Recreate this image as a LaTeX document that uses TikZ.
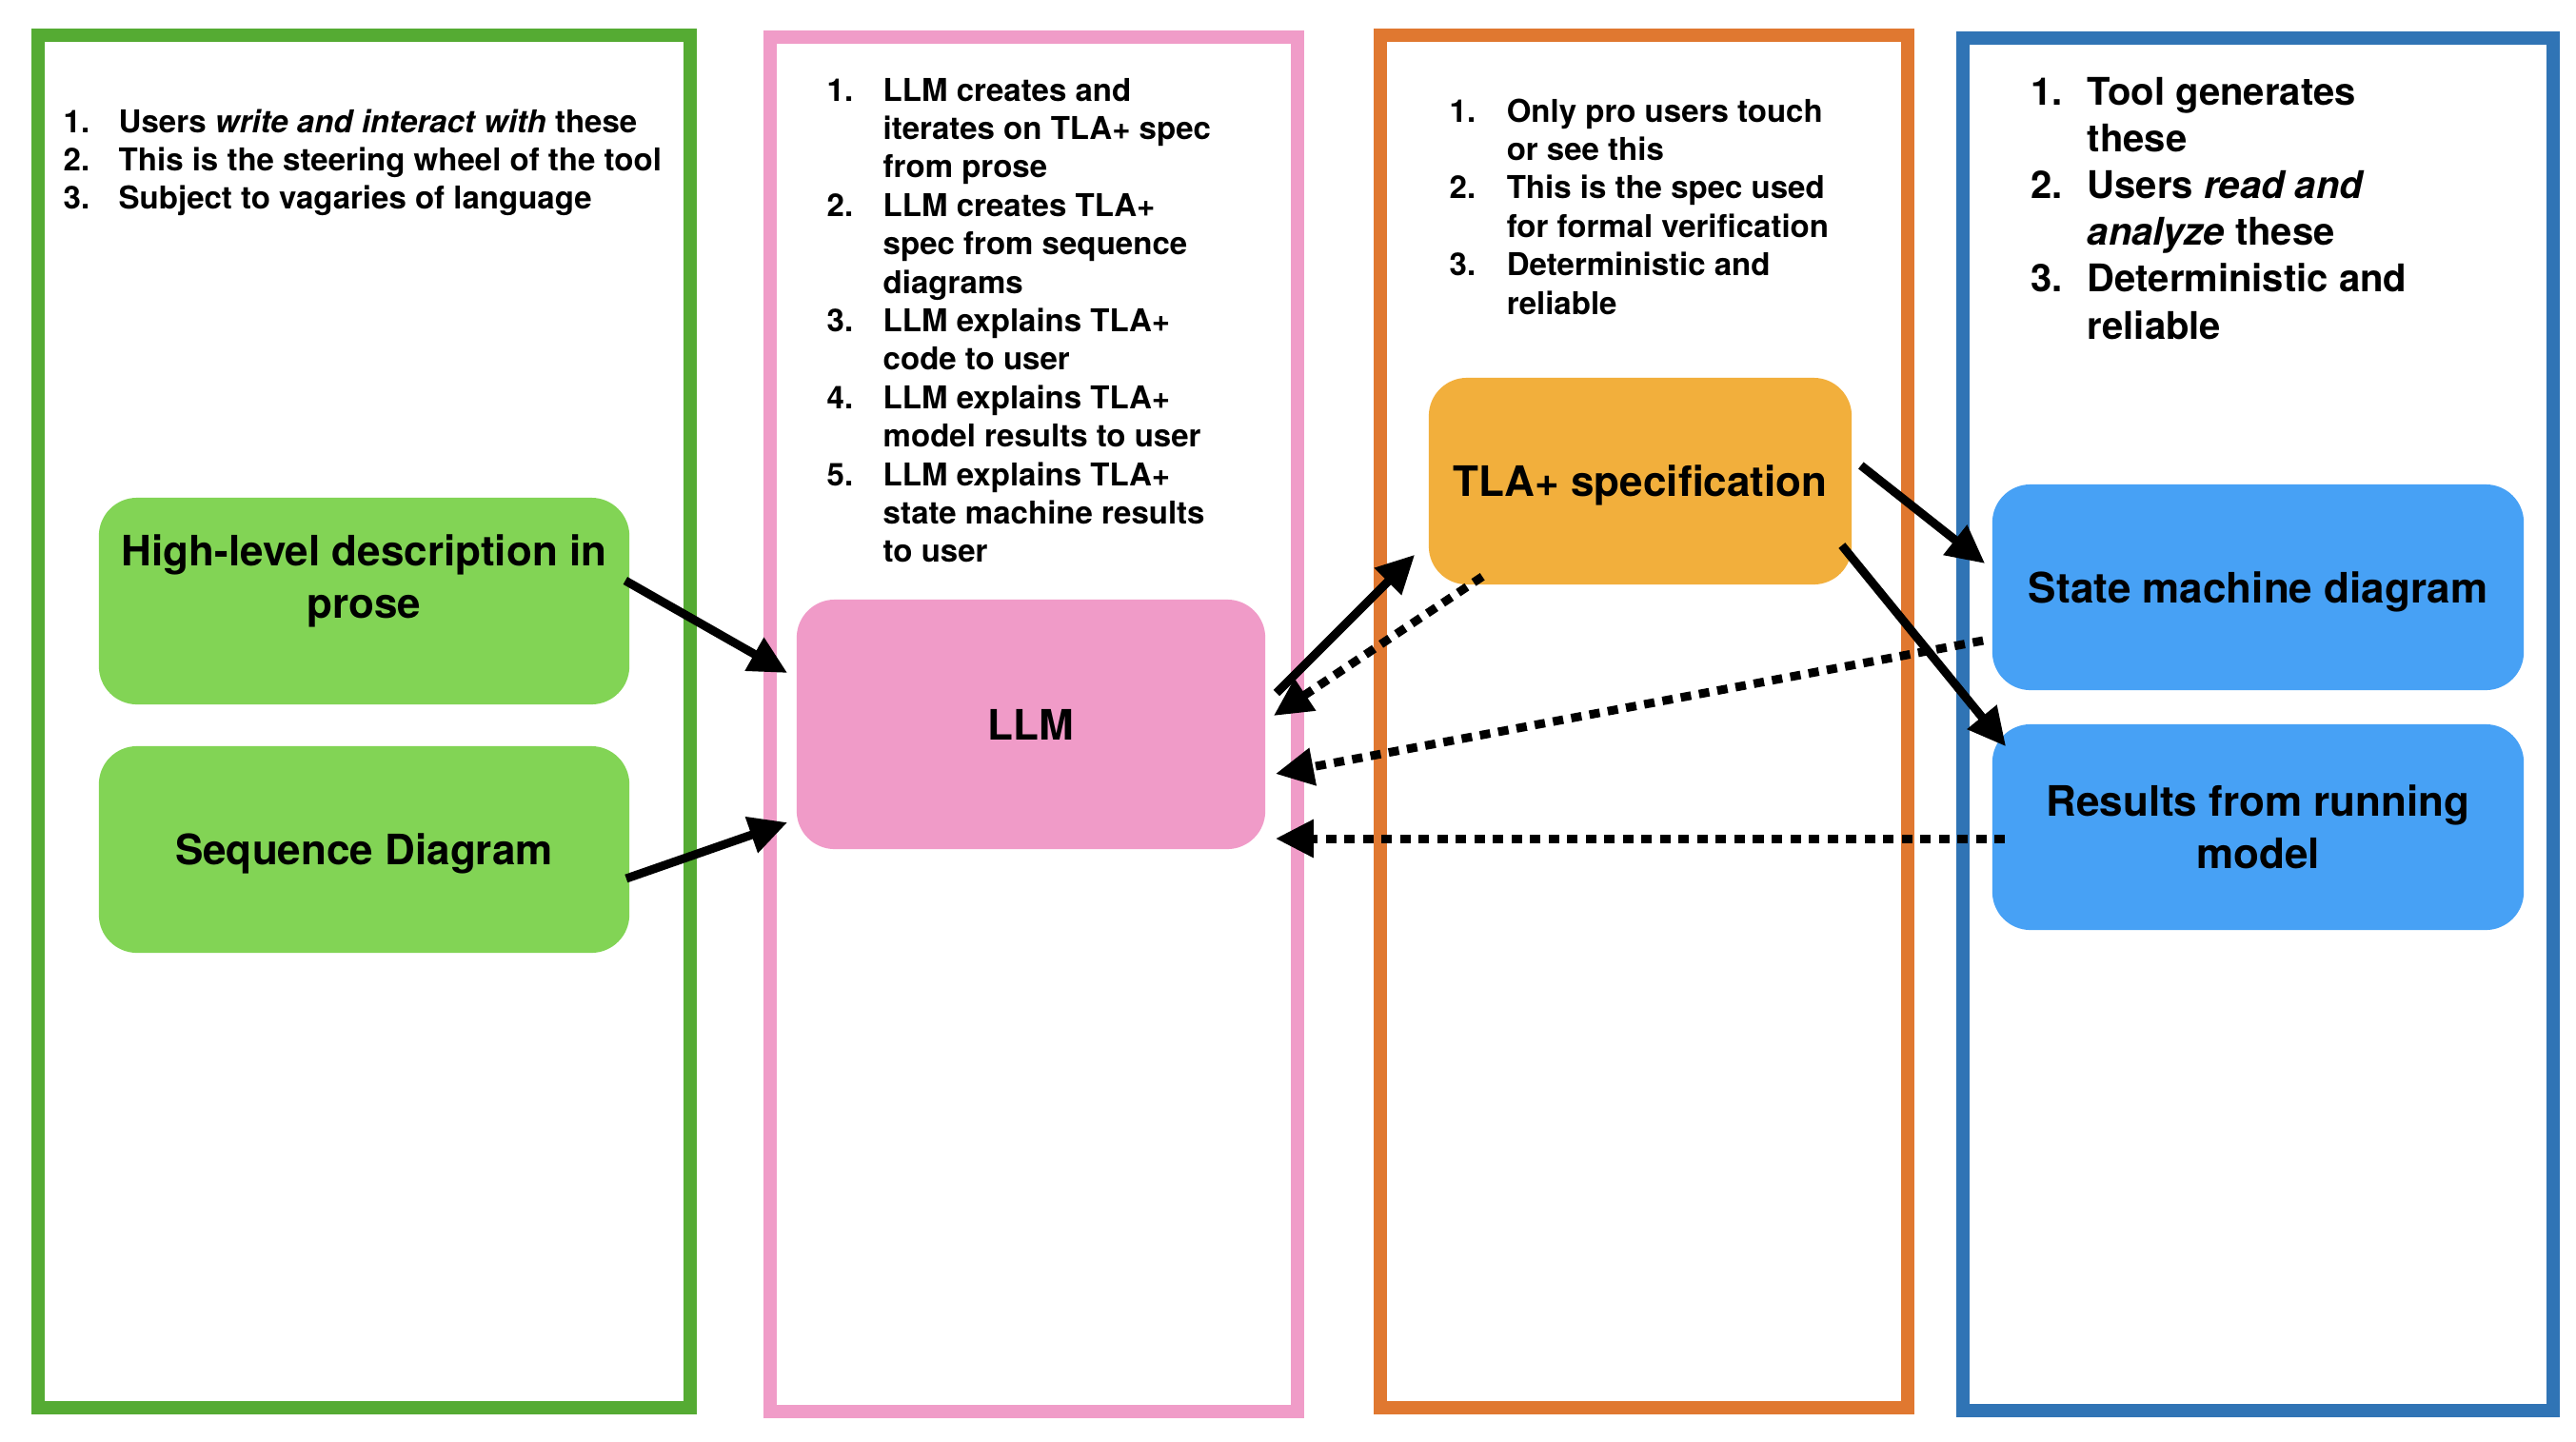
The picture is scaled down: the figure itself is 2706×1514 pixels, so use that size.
\documentclass[tikz,border=0pt]{standalone}
\usepackage{fontspec}
\setmainfont{TeX Gyre Heros}
\usetikzlibrary{arrows.meta,calc}
\definecolor{grnB}{RGB}{85,171,51}
\definecolor{grnF}{RGB}{130,212,85}
\definecolor{pnkB}{RGB}{240,156,200}
\definecolor{pnkF}{RGB}{240,155,200}
\definecolor{orgB}{RGB}{224,120,48}
\definecolor{orgF}{RGB}{242,175,60}
\definecolor{bluB}{RGB}{48,116,181}
\definecolor{bluF}{RGB}{71,161,245}
\newcommand{\mynodefont}{\fontsize{12.52pt}{15.65pt}\selectfont\bfseries}
\newcommand{\mylistfont}{\fontsize{9.39pt}{11.49pt}\selectfont\bfseries}
\newcommand{\mybiglistfont}{\fontsize{11.38pt}{14.0pt}\selectfont\bfseries}
\begin{document}
\begin{tikzpicture}[x=0.01cm,y=-0.01cm,
  colbox/.style={line width=0.14cm},
  boxnode/.style={rounded corners=0.4cm, inner sep=0pt, font=\mynodefont, align=center},
  oneline/.style={text height=0.32cm, text depth=0cm},
  arr/.style={line width=0.09cm, -{Triangle[length=0.40cm,width=0.38cm]}},
  dotarr/.style={arr, dash pattern=on 0.11cm off 0.085cm},
  listnode/.style={anchor=base west, inner sep=0pt}]
\useasboundingbox (0,0) rectangle (2706,1514);
\fill[white] (0,0) rectangle (2706,1514);
% columns
\draw[colbox, draw=grnB] (40,37) rectangle (725,1479);
\draw[colbox, draw=pnkB] (809,39) rectangle (1363,1483);
\draw[colbox, draw=orgB] (1450,37) rectangle (2004,1479);
\draw[colbox, draw=bluB] (2062,40) rectangle (2682,1482);
% lists
\node[listnode] (glist) at (66,139) {\mylistfont\begin{tabular}[t]{@{}p{0.58cm}@{}l@{}}
1. & Users \textit{write and interact with} these\\
2. & This is the steering wheel of the tool\\
3. & Subject to vagaries of language
\end{tabular}};
\node[listnode] (plist) at (868,106) {\mylistfont\begin{tabular}[t]{@{}p{0.59cm}@{}l@{}}
1. & LLM creates and\\
 & iterates on TLA+ spec\\
 & from prose\\
2. & LLM creates TLA+\\
 & spec from sequence\\
 & diagrams\\
3. & LLM explains TLA+\\
 & code to user\\
4. & LLM explains TLA+\\
 & model results to user\\
5. & LLM explains TLA+\\
 & state machine results\\
 & to user
\end{tabular}};
\node[listnode] (olist) at (1522,128) {\mylistfont\begin{tabular}[t]{@{}p{0.60cm}@{}l@{}}
1. & Only pro users touch\\
 & or see this\\
2. & This is the spec used\\
 & for formal verification\\
3. & Deterministic and\\
 & reliable
\end{tabular}};
\node[listnode] (blist) at (2133,110) {\mybiglistfont\begin{tabular}[t]{@{}p{0.59cm}@{}l@{}}
1. & Tool generates\\
 & these\\
2. & Users \textit{read and}\\
 & \textit{analyze} these\\
3. & Deterministic and\\
 & reliable
\end{tabular}};
% boxes
\node[boxnode, fill=grnF, minimum width=5.57cm, minimum height=2.17cm] (hl) at (382.5,631.5) {};
\node[font=\mynodefont, align=center, inner sep=0pt] (hltext) at (382.5,610) {High-level description in\\prose};
\node[boxnode, oneline, fill=grnF, minimum width=5.57cm, minimum height=2.17cm] (seq) at (382.5,892.5) {Sequence Diagram};
\node[boxnode, oneline, fill=pnkF, minimum width=4.92cm, minimum height=2.62cm] (llm) at (1083,761) {LLM};
\node[boxnode, oneline, fill=orgF, minimum width=4.44cm, minimum height=2.17cm] (tla) at (1723,505.5) {TLA+ specification};
\node[boxnode, oneline, fill=bluF, minimum width=5.58cm, minimum height=2.16cm] (sm) at (2372,617) {State machine diagram};
\node[boxnode, fill=bluF, minimum width=5.58cm, minimum height=2.16cm] (res) at (2372,869) {Results from running\\model};
% connectors
\draw[arr] ($(hl.east)+(-5,-21.5)$) -- ($(llm.west)+(-9,-54)$);
\draw[arr] ($(seq.east)+(-4,30.5)$) -- ($(llm.west)+(-9,103)$);
\draw[arr] ($(llm.east)+(11,-33)$) -- ($(tla.south west)+(-14,-32)$);
\draw[dotarr] ($(tla.south west)+(57,-9)$) -- ($(llm.east)+(8,-9)$);
\draw[dotarr] ($(sm.west)+(-9,56)$) -- ($(llm.east)+(10,52)$);
\draw[dotarr] ($(res.west)+(14,12)$) -- ($(llm.east)+(10,120)$);
\draw[arr] ($(tla.east)+(9,-16.5)$) -- ($(sm.west)+(-7,-25)$);
\draw[arr] ($(tla.east)+(-11,67.5)$) -- ($(res.north west)+(15,24)$);
\end{tikzpicture}
\end{document}
